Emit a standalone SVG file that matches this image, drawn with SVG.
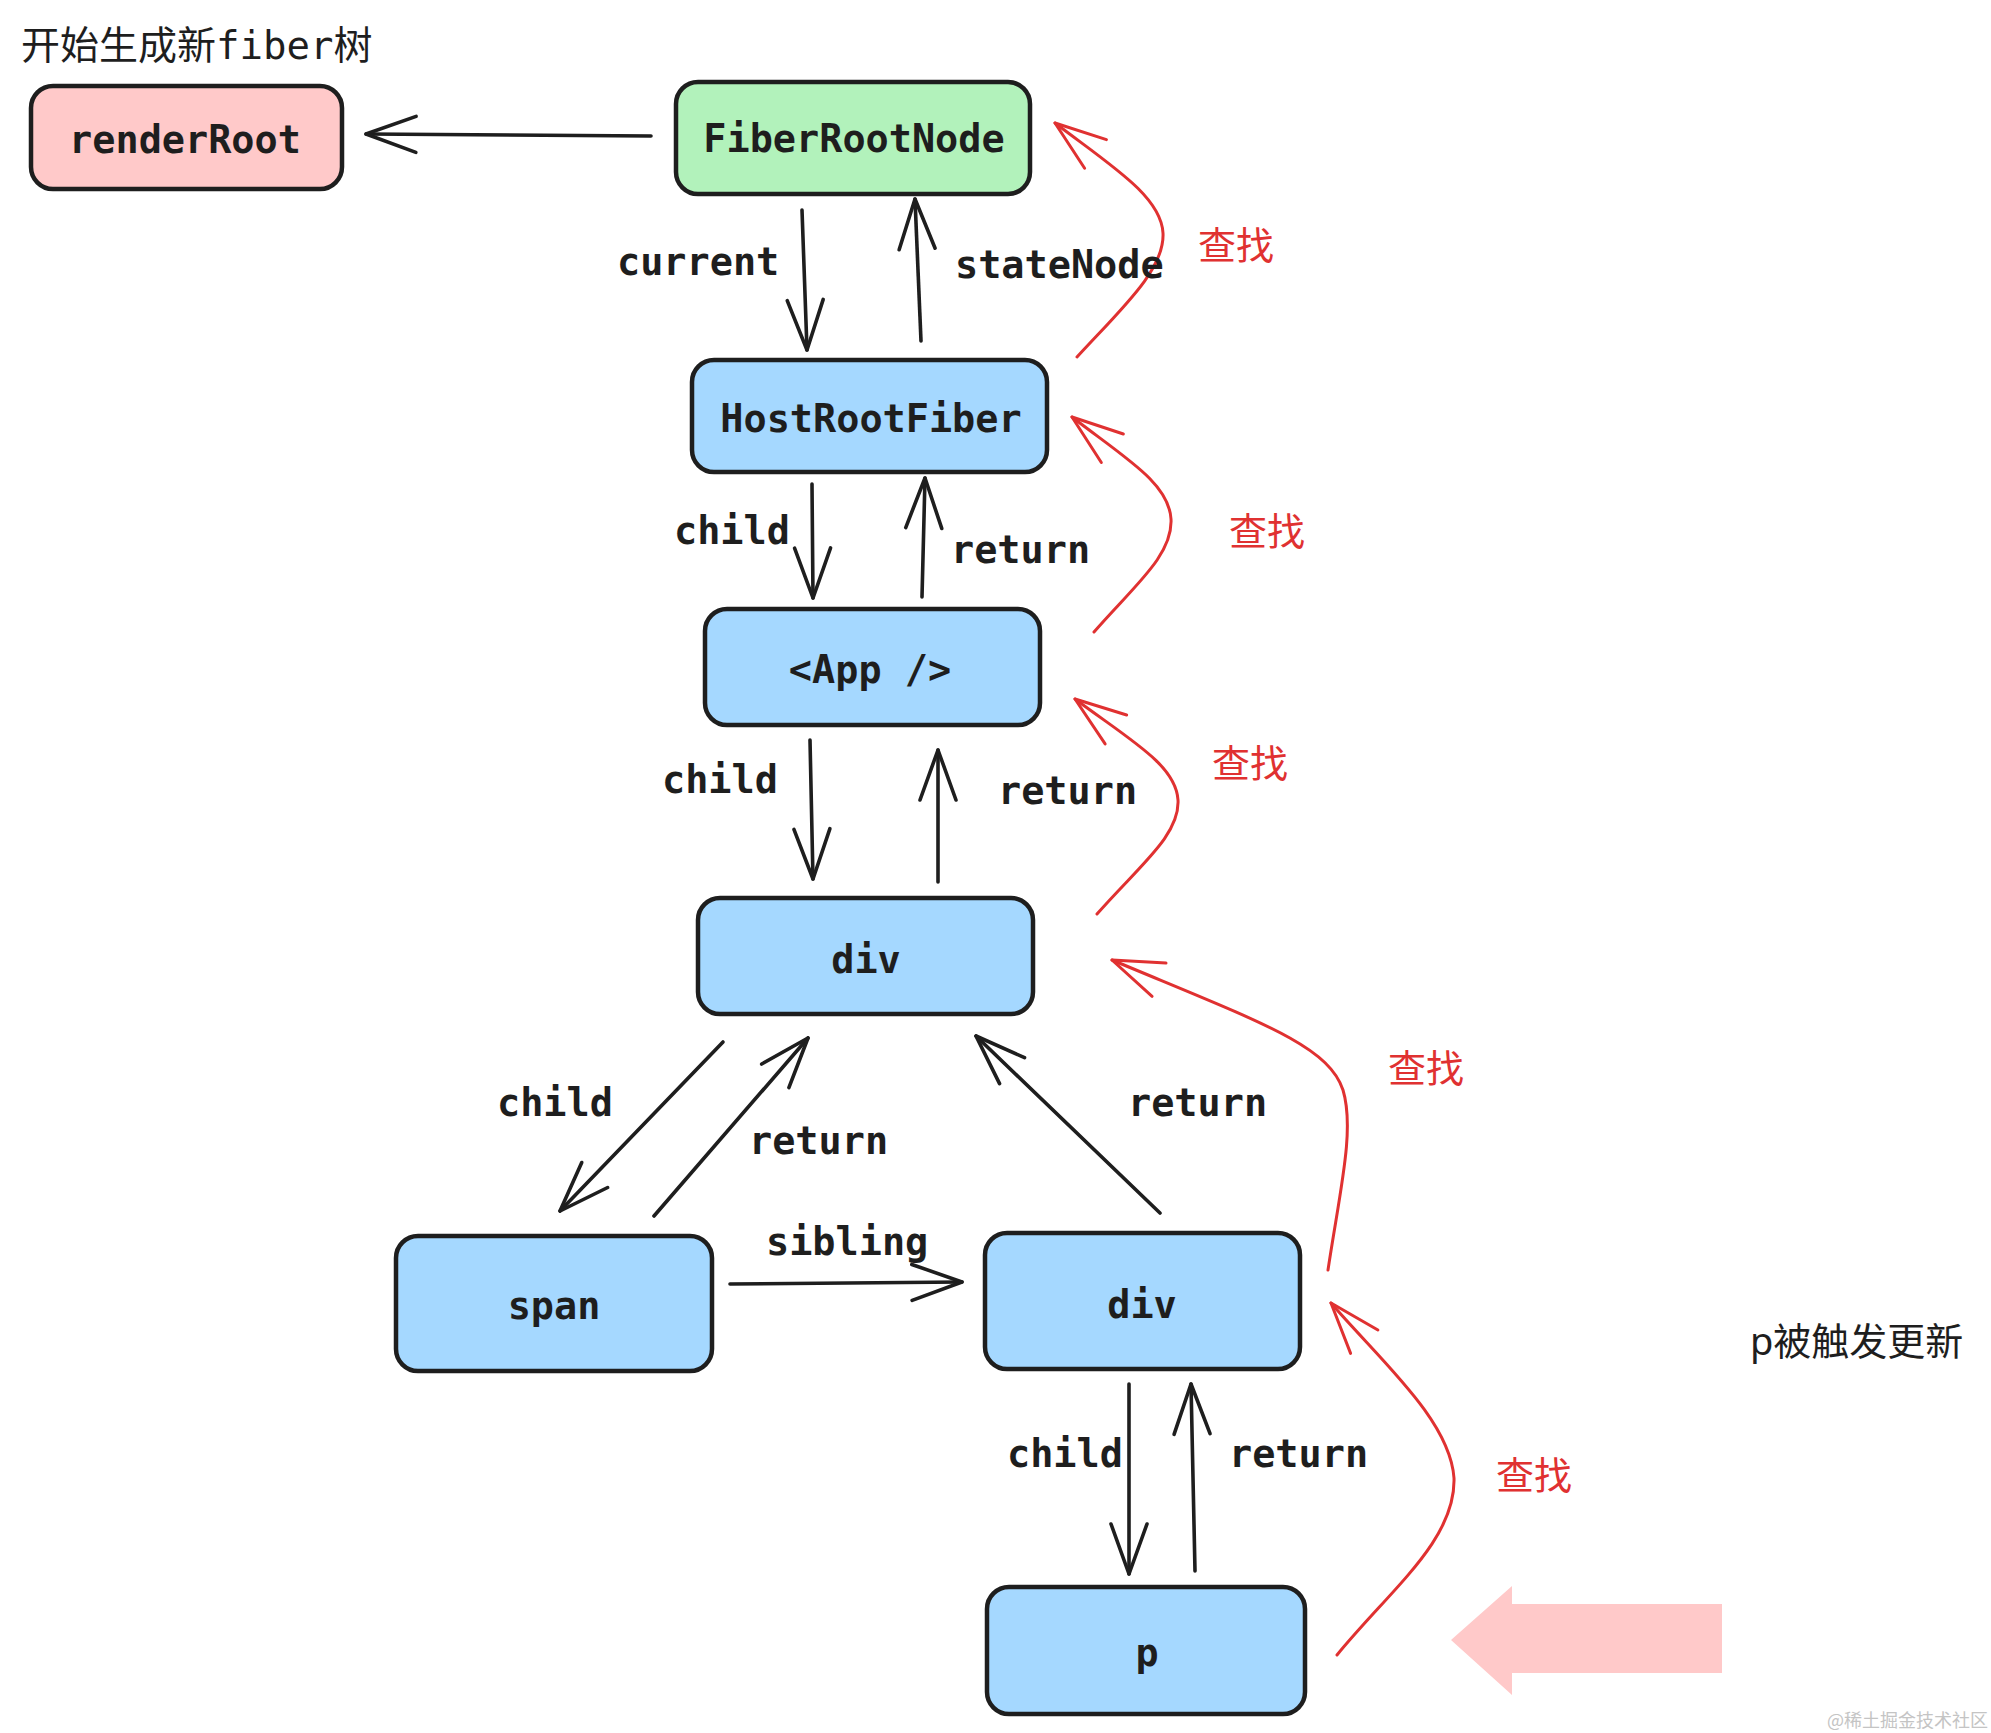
<svg xmlns="http://www.w3.org/2000/svg" width="1991" height="1733" viewBox="0 0 1991 1733">
<style>
.node{stroke:#1e1e1e;stroke-width:4.5;}
.blue{fill:#a5d8ff;}
.green{fill:#b2f2bb;}
.pink{fill:#ffc9c9;}
.lbl{font-family:"DejaVu Sans Mono","Liberation Mono",monospace;font-weight:bold;font-size:38.5px;fill:#1e1e1e;}
.mid{text-anchor:middle;}
.edge{fill:none;stroke:#1e1e1e;stroke-width:3.6;stroke-linecap:round;marker-end:url(#ah);}
.red{fill:none;stroke:#e03131;stroke-width:3;stroke-linecap:round;marker-end:url(#ahr);}
.rt{font-family:"Noto Sans CJK SC",sans-serif;font-size:38px;fill:#e03131;}
.title{font-family:"DejaVu Sans Mono","Noto Sans CJK SC",monospace;font-size:39px;fill:#1e1e1e;}
.note{font-family:"Noto Sans","Noto Sans CJK SC",sans-serif;font-size:38px;fill:#1e1e1e;}
.wm{font-family:"Noto Sans CJK SC",serif;font-size:18px;fill:#c4c4c4;}
</style>
<defs>
<marker id="ah" markerUnits="userSpaceOnUse" markerWidth="60" markerHeight="44" refX="0" refY="0" viewBox="-55 -22 60 44" orient="auto" overflow="visible">
<path d="M-50,-18 L0,0 L-50,18" fill="none" stroke="#1e1e1e" stroke-width="3.6" stroke-linecap="round" stroke-linejoin="round"/>
</marker>
<marker id="ahr" markerUnits="userSpaceOnUse" markerWidth="60" markerHeight="44" refX="0" refY="0" viewBox="-55 -22 60 44" orient="auto" overflow="visible">
<path d="M-51,-18 L0,0 L-51,18" fill="none" stroke="#e03131" stroke-width="3" stroke-linecap="round" stroke-linejoin="round"/>
</marker>
</defs>
<rect width="1991" height="1733" fill="#ffffff"/>

<text class="title" x="21" y="59">开始生成新fiber树</text>

<g id="connectors">
<path class="edge" d="M651,136 L366,134"/>
<path class="edge" d="M802,210 L807,350"/>
<path class="edge" d="M921,341 L915,199"/>
<path class="edge" d="M812,484 L813,598"/>
<path class="edge" d="M922,597 L925,478"/>
<path class="edge" d="M810,740 L813,879"/>
<path class="edge" d="M938,882 L938,750"/>
<path class="edge" d="M723,1042 L560,1211"/>
<path class="edge" d="M654,1216 L808,1038"/>
<path class="edge" d="M1160,1213 L976,1036"/>
<path class="edge" d="M730,1284 L962,1282"/>
<path class="edge" d="M1129,1384 L1129,1574"/>
<path class="edge" d="M1195,1571 L1191,1384"/>

<path class="red" d="M1077,357 C1120,310 1165,270 1163,233 C1161,196 1110,165 1055,123"/>
<path class="red" d="M1094,632 C1135,585 1173,555 1171,519 C1169,483 1125,458 1072,417"/>
<path class="red" d="M1097,914 C1140,865 1180,835 1178,800 C1176,765 1130,740 1075,699"/>
<path class="red" d="M1328,1270 C1340,1190 1355,1130 1343,1090 C1328,1045 1260,1022 1112,960"/>
<path class="red" d="M1337,1655 C1390,1590 1456,1540 1454,1478 C1450,1420 1380,1360 1331,1303"/>

<text class="lbl" x="617" y="275">current</text>
<text class="lbl" x="955" y="278">stateNode</text>
<text class="lbl" x="674" y="544">child</text>
<text class="lbl" x="951" y="563">return</text>
<text class="lbl" x="662" y="793">child</text>
<text class="lbl" x="998" y="804">return</text>
<text class="lbl" x="497" y="1116">child</text>
<text class="lbl" x="749" y="1154">return</text>
<text class="lbl" x="1128" y="1116">return</text>
<text class="lbl" x="766" y="1255">sibling</text>
<text class="lbl" x="1007" y="1467">child</text>
<text class="lbl" x="1229" y="1467">return</text>

<text class="rt" x="1198" y="259">查找</text>
<text class="rt" x="1229" y="545">查找</text>
<text class="rt" x="1212" y="777">查找</text>
<text class="rt" x="1388" y="1082">查找</text>
<text class="rt" x="1496" y="1489">查找</text>
</g>

<g id="renderRoot">
<rect class="node pink" x="31" y="86" width="311" height="103" rx="22"/>
<text class="lbl mid" x="185" y="153">renderRoot</text>
</g>
<g id="FiberRootNode">
<rect class="node green" x="676" y="82" width="354" height="112" rx="22"/>
<text class="lbl mid" x="854" y="152">FiberRootNode</text>
</g>
<g id="HostRootFiber">
<rect class="node blue" x="692" y="360" width="355" height="112" rx="22"/>
<text class="lbl mid" x="871" y="432">HostRootFiber</text>
</g>
<g id="App">
<rect class="node blue" x="705" y="609" width="335" height="116" rx="22"/>
<text class="lbl mid" x="870" y="683">&lt;App /&gt;</text>
</g>
<g id="divTop">
<rect class="node blue" x="698" y="898" width="335" height="116" rx="22"/>
<text class="lbl mid" x="866" y="973">div</text>
</g>
<g id="span">
<rect class="node blue" x="396" y="1236" width="316" height="135" rx="22"/>
<text class="lbl mid" x="554" y="1319">span</text>
</g>
<g id="divRight">
<rect class="node blue" x="985" y="1233" width="315" height="136" rx="22"/>
<text class="lbl mid" x="1142" y="1318">div</text>
</g>
<g id="p">
<rect class="node blue" x="987" y="1587" width="318" height="127" rx="22"/>
<text class="lbl mid" x="1147" y="1666">p</text>
</g>

<g id="trigger">
<polygon points="1451,1640 1512,1586 1512,1604 1722,1604 1722,1673 1512,1673 1512,1695" fill="#ffc9c9"/>
<text class="note" x="1750" y="1355">p被触发更新</text>
</g>

<text class="wm" x="1827" y="1727">@稀土掘金技术社区</text>
</svg>
